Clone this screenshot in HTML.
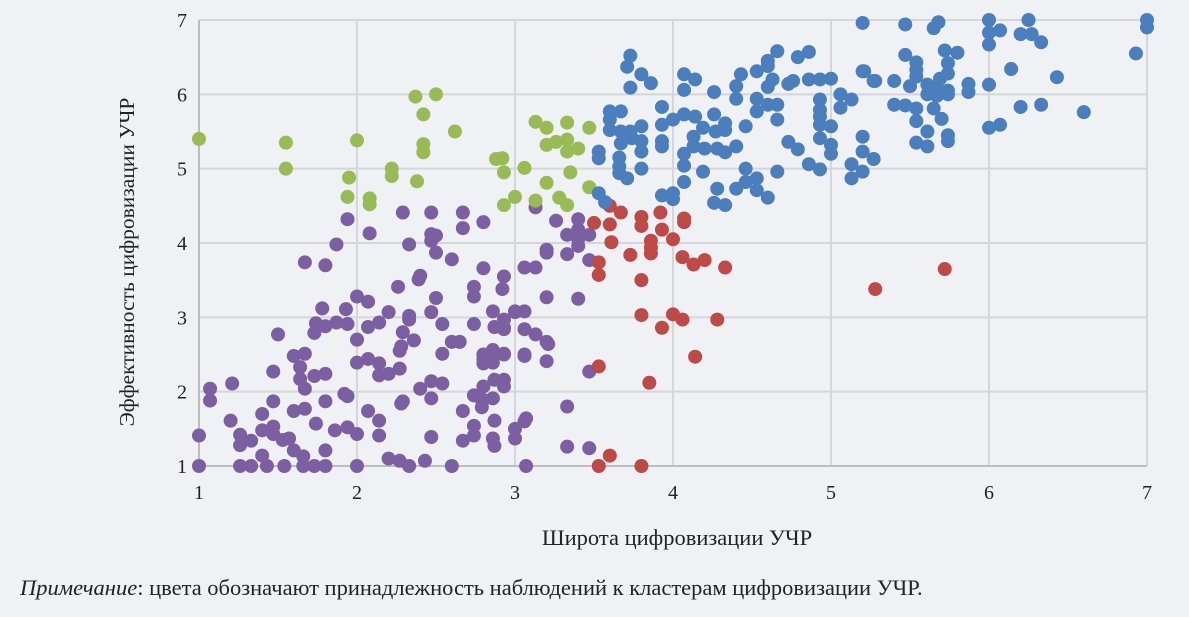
<!DOCTYPE html>
<html><head><meta charset="utf-8">
<style>
html,body{margin:0;padding:0;background:#eff1f5;}
body{width:1189px;height:612px;overflow:hidden;font-family:"Liberation Serif",serif;}
svg text{font-family:"Liberation Serif",serif;fill:#222;}
</style></head>
<body>
<svg id="chart" width="1189" height="612" xmlns="http://www.w3.org/2000/svg">
<rect x="0" y="0" width="1189" height="612" fill="#eff1f5"/>
<g id="grid"></g>
<g id="axes"></g>
<g id="points"></g>
<text x="677" y="545" text-anchor="middle" font-size="22.5">Широта цифровизации УЧР</text>
<text transform="translate(134,262) rotate(-90)" text-anchor="middle" font-size="21.5">Эффективность цифровизации УЧР</text>
<text x="20" y="595" font-size="22.5"><tspan font-style="italic">Примечание</tspan>: цвета обозначают принадлежность наблюдений к кластерам цифровизации УЧР.</text>
</svg>
<script>
const xTicks=[1,2,3,4,5,6,7];
const yTicks=[1,2,3,4,5,6,7];
const blueX=[3.73,3.71,3.80,3.86,3.73,3.93,3.60,3.67,3.60,3.60,3.67,3.73,3.80,3.67,3.74,3.80,3.80,3.93,3.93,3.93,3.53,3.53,3.66,3.66,3.66,3.71,3.80,3.53,3.57,4.07,4.14,4.07,4.26,4.00,4.07,4.14,4.26,4.19,4.13,4.27,4.33,4.33,4.13,4.20,4.07,4.28,4.33,4.40,4.07,4.19,4.07,3.93,4.00,4.00,4.28,4.26,4.33,4.40,4.46,4.46,4.53,4.53,4.60,4.66,4.46,4.40,4.40,4.43,4.53,4.60,4.60,4.66,4.63,4.60,4.53,4.53,4.60,4.66,4.66,4.73,4.76,4.79,4.86,4.86,4.93,5.00,4.93,4.93,4.93,4.93,5.00,4.73,4.79,4.93,5.00,5.00,4.86,4.93,5.06,5.06,5.13,5.20,5.20,5.27,5.20,5.20,5.27,5.13,5.20,5.13,5.47,5.65,5.68,6.00,6.00,6.07,6.00,6.20,6.27,6.25,6.33,7.00,7.00,6.93,5.47,5.54,5.72,5.80,5.21,5.28,5.40,5.54,5.54,5.74,5.74,5.69,5.50,5.61,5.67,5.74,5.74,5.61,5.67,5.40,5.47,5.54,5.65,5.70,5.54,5.61,5.74,5.74,5.54,5.61,5.87,5.87,6.00,6.14,6.43,6.20,6.33,6.60,6.00,6.07];
const blueY=[6.52,6.37,6.27,6.15,6.09,5.83,5.77,5.77,5.66,5.52,5.50,5.50,5.57,5.34,5.41,5.37,5.23,5.59,5.37,5.30,5.23,5.14,5.15,5.03,4.94,4.87,5.00,4.67,4.55,6.27,6.20,6.06,6.03,5.66,5.73,5.70,5.73,5.55,5.43,5.50,5.61,5.52,5.30,5.27,5.20,5.27,5.22,5.30,5.04,4.96,4.82,4.64,4.67,4.59,4.73,4.54,4.51,4.73,5.00,4.82,4.87,4.71,4.61,4.96,5.57,6.11,5.94,6.27,6.31,6.45,6.38,6.58,6.20,6.10,5.94,5.77,5.86,5.86,5.66,6.14,6.18,6.50,6.57,6.20,6.20,6.21,5.93,5.79,5.70,5.59,5.57,5.36,5.26,5.41,5.32,5.20,5.06,4.99,6.00,5.82,5.93,6.96,6.31,6.18,5.43,5.23,5.13,5.06,4.96,4.87,6.94,6.89,6.97,7.00,6.83,6.86,6.67,6.81,6.81,7.00,6.70,7.00,6.90,6.55,6.53,6.43,6.59,6.56,6.31,6.18,6.18,6.33,6.24,6.42,6.28,6.21,6.11,6.13,6.09,6.05,6.00,6.00,5.98,5.86,5.85,5.81,5.81,5.67,5.64,5.50,5.45,5.37,5.35,5.30,6.14,6.03,6.13,6.34,6.23,5.83,5.86,5.76,5.55,5.59];
const redX=[3.60,3.67,3.50,3.60,3.80,3.80,3.92,3.93,4.07,4.07,4.00,3.61,3.86,3.86,3.86,3.73,4.06,4.13,4.20,4.33,3.53,3.53,3.80,3.80,4.00,4.06,3.93,4.28,4.14,3.53,3.85,3.60,3.53,3.80,5.28,5.72];
const redY=[4.50,4.41,4.27,4.25,4.35,4.23,4.41,4.18,4.33,4.28,4.05,4.01,4.03,3.94,3.86,3.84,3.81,3.71,3.77,3.67,3.74,3.57,3.50,3.03,3.04,2.97,2.86,2.97,2.47,2.34,2.12,1.14,1.00,1.00,3.38,3.65];
const greenX=[3.13,3.20,3.33,3.47,3.20,3.26,3.33,3.33,3.40,2.92,2.93,3.06,3.35,3.20,3.47,3.00,2.93,3.13,3.28,3.33,1.00,1.55,1.55,2.00,1.95,1.94,2.08,2.08,2.22,2.22,2.37,2.38,2.42,2.42,2.42,2.50,2.62,2.88];
const greenY=[5.63,5.55,5.62,5.55,5.32,5.36,5.39,5.23,5.27,5.14,4.95,5.01,4.95,4.81,4.75,4.62,4.51,4.57,4.61,4.51,5.40,5.35,5.00,5.38,4.88,4.62,4.60,4.52,5.00,4.90,5.97,4.83,5.73,5.33,5.22,6.00,5.50,5.13];
const purpleX=[1.94,2.08,2.29,2.47,2.47,2.50,2.47,2.50,2.67,2.67,2.80,2.60,2.80,2.93,2.92,2.74,2.74,1.87,1.67,1.80,2.33,2.40,2.39,2.26,2.50,2.00,2.07,2.20,2.47,2.33,2.33,2.54,2.74,2.87,2.93,2.93,3.00,1.78,1.93,1.74,1.73,1.80,1.87,1.94,2.07,2.14,2.00,2.29,2.36,2.28,2.27,2.60,2.65,2.54,2.80,2.80,2.87,2.93,1.50,1.60,1.67,1.64,1.64,1.67,1.73,1.80,2.00,2.07,2.14,2.14,2.20,2.27,1.47,1.21,1.07,1.07,1.20,1.26,1.26,1.33,1.40,1.47,1.40,1.47,1.47,1.53,1.57,1.60,1.67,1.80,1.92,1.74,1.60,1.66,1.80,1.86,1.94,2.00,2.14,2.07,2.14,2.28,2.29,2.40,2.47,2.54,2.47,2.67,2.74,2.79,2.79,2.87,2.93,2.74,2.74,2.67,2.87,2.87,3.00,2.47,1.00,1.00,1.26,1.33,1.40,1.43,1.54,1.66,1.73,1.80,1.94,2.00,2.20,2.27,2.33,2.43,2.60,3.07,3.26,3.40,3.13,3.33,3.40,3.47,3.40,3.40,3.33,3.47,3.06,3.20,3.20,3.13,3.20,3.40,3.00,3.06,2.86,2.93,3.06,3.13,3.21,3.20,3.06,3.06,3.20,3.47,2.86,2.93,2.80,2.86,2.93,2.80,2.80,3.33,2.86,3.06,3.07,3.00,2.86,3.33,3.47];
const purpleY=[4.32,4.13,4.41,4.41,4.12,4.10,4.03,3.87,4.41,4.20,4.28,3.78,3.66,3.55,3.38,3.41,3.28,3.98,3.74,3.70,3.98,3.56,3.51,3.41,3.26,3.28,3.21,3.07,3.07,3.02,2.97,2.91,2.91,2.87,2.97,2.84,3.07,3.12,3.11,2.92,2.79,2.88,2.93,2.91,2.87,2.93,2.70,2.80,2.69,2.61,2.55,2.67,2.67,2.51,2.44,2.38,2.51,2.51,2.77,2.48,2.51,2.33,2.17,2.04,2.21,2.24,2.39,2.44,2.38,2.22,2.24,2.31,2.27,2.11,2.04,1.88,1.61,1.42,1.28,1.34,1.70,1.87,1.48,1.53,1.43,1.35,1.37,1.74,1.77,1.87,1.97,1.57,1.21,1.13,1.21,1.48,1.52,1.43,1.41,1.74,1.61,1.84,1.87,2.04,2.14,2.11,1.91,1.74,1.95,1.89,1.79,2.16,2.07,1.54,1.41,1.34,1.61,1.27,1.37,1.39,1.41,1.00,1.00,1.00,1.14,1.00,1.00,1.00,1.00,1.00,1.94,1.00,1.10,1.07,1.00,1.07,1.00,1.00,4.30,4.32,4.48,4.11,4.18,4.11,4.05,3.96,3.85,3.77,3.67,3.91,3.87,3.67,3.27,3.25,3.08,3.08,3.08,2.86,2.84,2.77,2.64,2.67,2.50,2.48,2.41,2.27,2.56,2.50,2.50,2.39,2.16,2.07,1.89,1.80,1.91,1.60,1.64,1.50,1.37,1.26,1.24,1.07];

const X0=199,X1=1147,Y0=466,Y1=20;
function sx(v){return X0+(v-1)/(7-1)*(X1-X0);}
function sy(v){return Y0-(v-1)/(7-1)*(Y0-Y1);}
const NS='http://www.w3.org/2000/svg';
function mk(tag,attrs,parent){const e=document.createElementNS(NS,tag);for(const k in attrs)e.setAttribute(k,attrs[k]);parent.appendChild(e);return e;}
const grid=document.getElementById('grid'),axes=document.getElementById('axes'),pts=document.getElementById('points');
xTicks.forEach(t=>{
  if(t>1){const l=mk('line',{x1:sx(t),x2:sx(t),y1:Y1,y2:Y0,stroke:'#d6d6d8','stroke-width':2},grid);
  
  }
  const tx=mk('text',{x:sx(t),y:Y0+33,'text-anchor':'middle','font-size':20},axes);
  tx.textContent=t;
  
  
});
yTicks.forEach(t=>{
  if(t>1){const l=mk('line',{x1:X0,x2:X1,y1:sy(t),y2:sy(t),stroke:'#d6d6d8','stroke-width':2},grid);
  
  }
  const tx=mk('text',{x:X0-12,y:sy(t)+7,'text-anchor':'end','font-size':20},axes);
  tx.textContent=t;
  
  
});
const xa=mk('line',{x1:X0,x2:X1,y1:Y0,y2:Y0,stroke:'#bdbdbf','stroke-width':2},axes);


const ya=mk('line',{x1:X0,x2:X0,y1:Y1,y2:Y0,stroke:'#bdbdbf','stroke-width':2},axes);


function series(xs,ys,color,name){
  const g=mk('g',{},pts);
  
  
  for(let i=0;i<xs.length;i++){
    const c=mk('circle',{cx:sx(xs[i]),cy:sy(ys[i]),r:7,fill:color},g);
    
    
  }
}
series(purpleX,purpleY,'#7c5fa2','purple');
series(greenX,greenY,'#97bb55','green');
series(redX,redY,'#bd4a47','red');
series(blueX,blueY,'#4a7ebd','blue');
</script>
</body></html>
